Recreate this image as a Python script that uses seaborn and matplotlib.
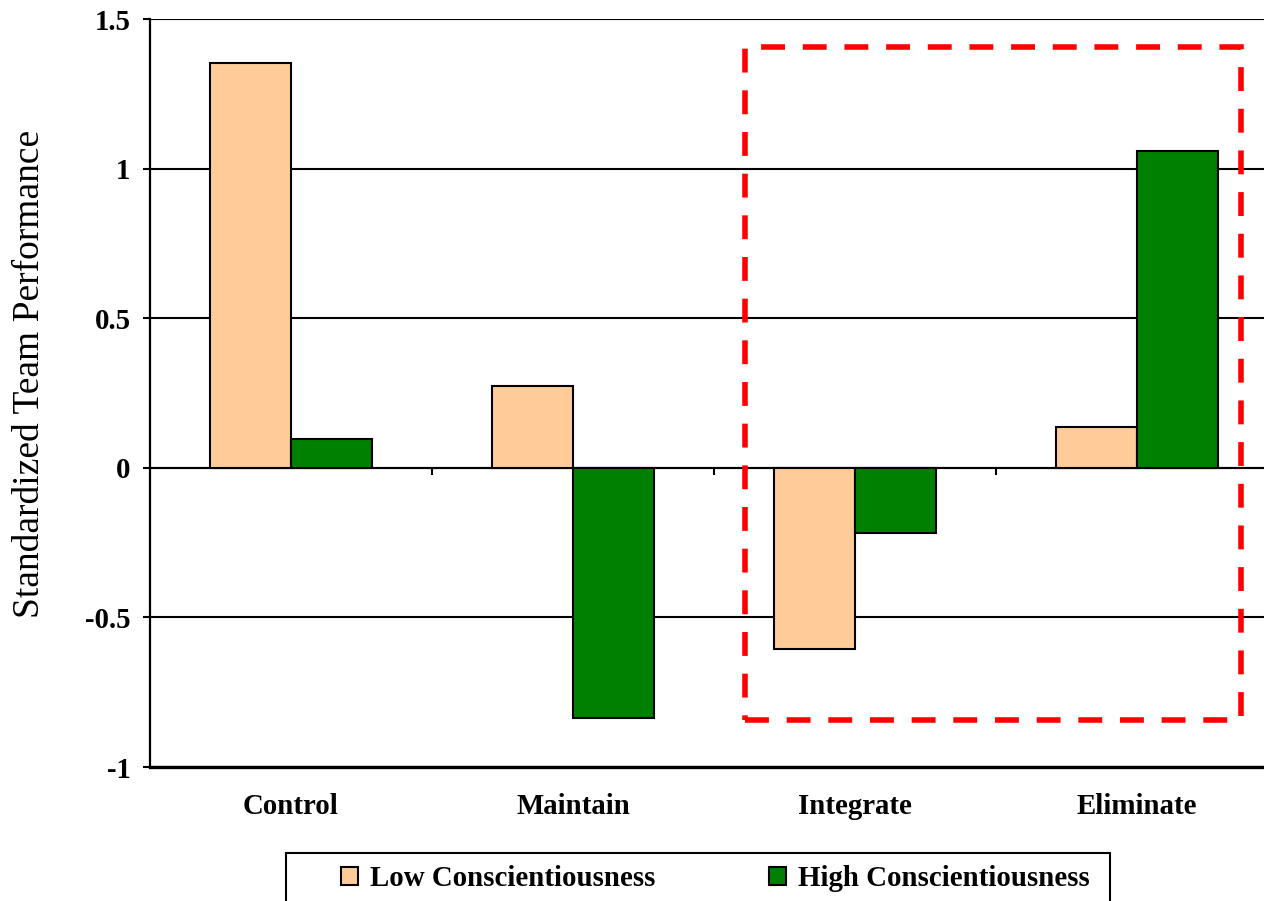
import matplotlib
matplotlib.use("Agg")
import matplotlib.pyplot as plt
from matplotlib.patches import Rectangle
import seaborn as sns
import pandas as pd

# Team performance by boundary strategy and conscientiousness level
strategies = ["Control", "Maintain", "Integrate", "Eliminate"]
groups = ["Low Conscientiousness", "High Conscientiousness"]
low_values = [1.354, 0.274, -0.605, 0.137]
high_values = [0.097, -0.836, -0.217, 1.059]
y_ticks = [-1, -0.5, 0, 0.5, 1, 1.5]
y_tick_labels = ["-1", "-0.5", "0", "0.5", "1", "1.5"]
colors = ["#FFCC99", "#008000"]

df = pd.DataFrame({
    "Strategy": strategies * 2,
    "Group": [groups[0]] * 4 + [groups[1]] * 4,
    "Performance": low_values + high_values,
})

sns.set_theme(style="white")
plt.rcParams["font.family"] = ["Liberation Serif", "DejaVu Serif"]
plt.rcParams["text.color"] = "black"
plt.rcParams["axes.labelcolor"] = "black"

W, H = 1264, 901
LABEL_SIZE = 20.8
fig = plt.figure(figsize=(W / 100, H / 100), dpi=100)
ax = fig.add_axes([150 / W, (H - 767) / H, 1128 / W, 748 / H])

sns.barplot(data=df, x="Strategy", y="Performance", hue="Group",
            order=strategies, hue_order=groups, palette=colors,
            saturation=1, width=0.575, gap=0, edgecolor="black",
            linewidth=1.5, errorbar=None, ax=ax, zorder=3)

handles, labels = ax.get_legend_handles_labels()
if ax.get_legend() is not None:
    ax.get_legend().remove()

ax.set_xlim(-0.5, 3.5)
ax.set_ylim(-1, 1.5)
ax.set_yticks(y_ticks)
ax.set_yticklabels(y_tick_labels)
ax.set_xlabel("")
ax.set_ylabel("Standardized Team Performance", fontsize=27, color="black")
ax.yaxis.set_label_coords(-0.091, 0.525)

# horizontal gridlines in black
ax.yaxis.grid(True, color="black", linewidth=1.5, zorder=1)
ax.set_axisbelow(True)
for side in ["top", "right"]:
    ax.spines[side].set_visible(False)
ax.spines["left"].set_color("black")
ax.spines["left"].set_linewidth(1.6)
ax.spines["bottom"].set_color("black")
ax.spines["bottom"].set_linewidth(2.4)

ax.tick_params(axis="y", which="major", left=True, length=5, width=1.5,
               color="black", pad=9, labelsize=LABEL_SIZE, labelcolor="black")
ax.tick_params(axis="x", which="major", bottom=False, length=0, pad=19,
               labelsize=LABEL_SIZE, labelcolor="black")
for lbl in ax.get_yticklabels() + ax.get_xticklabels():
    lbl.set_fontweight("bold")

# category separator ticks on the zero axis
ax.axhline(0, color="black", linewidth=1.5, zorder=2)
ax.vlines([0.5, 1.5, 2.5], 0, -0.025, colors="black", linewidth=1.5, zorder=2)

# dashed highlight around the Integrate/Eliminate conditions
highlight = Rectangle((1.61, -0.842), 3.369 - 1.61, 1.405 + 0.842,
                      fill=False, edgecolor="#FF0000", linewidth=4.0,
                      linestyle=(0, (4.3, 3.2)), zorder=5, clip_on=False)
highlight.set_capstyle("butt")
ax.add_patch(highlight)

# legend with a square outline box at the bottom
box = Rectangle((286 / W, -0.05), 824 / W, 0.05 + (H - 853) / H,
                transform=fig.transFigure, fill=False, edgecolor="black",
                linewidth=1.5, clip_on=False)
fig.patches.append(box)
fig.legend(handles, labels, loc="center left",
           bbox_to_anchor=(341 / W, (H - 879) / H),
           bbox_transform=fig.transFigure, ncol=2, frameon=False,
           prop={"family": "Liberation Serif", "weight": "bold",
                 "size": LABEL_SIZE},
           labelcolor="black",
           handlelength=0.6, handleheight=0.6, handletextpad=0.42,
           columnspacing=3.9, borderpad=0, borderaxespad=0)

fig.savefig("out.png", dpi=100)
